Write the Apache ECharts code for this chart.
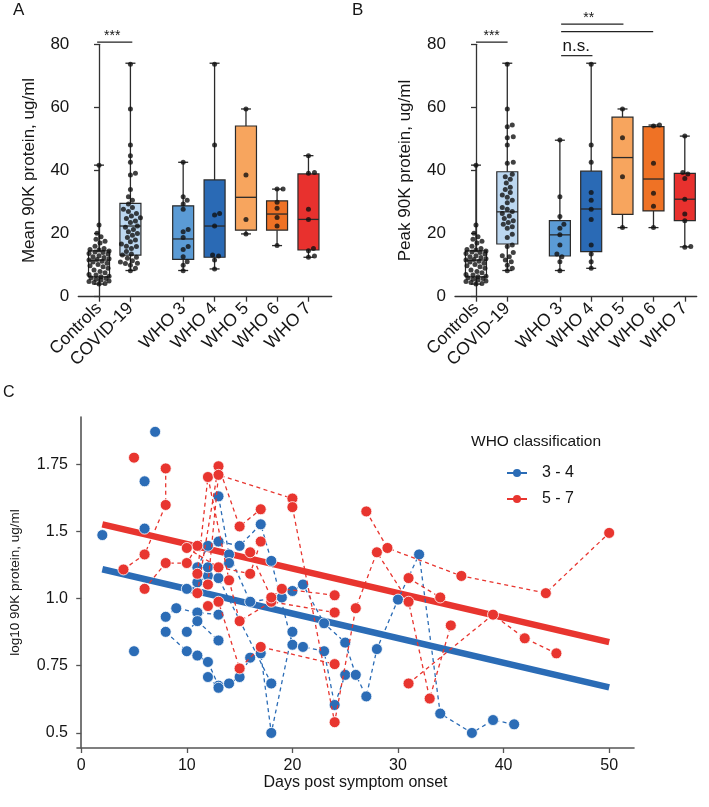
<!DOCTYPE html>
<html><head><meta charset="utf-8">
<script src="https://cdn.jsdelivr.net/npm/echarts@6/dist/echarts.min.js"></script>
<style>html,body{margin:0;padding:0;background:#fff}#c{width:709px;height:807px}</style>
</head><body><div id="c"></div>
<script>
// ---------- Panels A & B data ----------
const categories = ['Controls','COVID-19','WHO 3','WHO 4','WHO 5','WHO 6','WHO 7'];
const catPos = [0, 1, 2.68, 3.68, 4.68, 5.67, 6.67];
const boxColors = ['#ffffff','#bcd7f0','#5b9bd5','#2a6ab5','#f7a55e','#ef7225','#e8312e'];
const yTicksAB = [0, 20, 40, 60, 80];

// box stats: [min, Q1, median, Q3, max]
const meanBoxStats = [
  [4.0, 6.3, 11.6, 14.5, 41.7],
  [8.3, 13.2, 22.4, 29.6, 74.0],
  [8.3, 11.8, 18.3, 28.8, 42.6],
  [8.8, 12.5, 22.4, 37.0, 74.0],
  [19.9, 21.1, 31.5, 54.1, 59.5],
  [16.2, 21.1, 26.2, 30.4, 34.1],
  [12.5, 14.8, 24.5, 38.9, 44.7]
];
const peakBoxStats = [
  [4.0, 6.3, 11.6, 14.5, 41.7],
  [8.3, 16.7, 26.9, 39.6, 74.0],
  [8.3, 12.9, 19.6, 24.1, 49.6],
  [9.0, 14.3, 27.8, 39.8, 74.0],
  [21.9, 26.1, 44.1, 56.9, 59.5],
  [21.9, 27.2, 37.3, 53.9, 54.4],
  [15.8, 24.1, 30.9, 39.1, 50.9]
];

const controlsValues = [41.7,22.7,20.1,19.0,18.2,17.6,17.0,16.0,15.3,15.0,14.8,14.5,14.2,14.0,13.7,13.5,13.0,12.7,12.4,12.0,11.8,11.6,11.2,11.0,10.6,10.2,9.8,9.5,9.0,8.5,8.0,7.6,7.0,6.9,6.5,6.3,6.0,5.8,5.5,5.3,5.0,4.8,4.5,4.2,4.0];

const meanCovid = [73.7,59.5,48.1,44.7,42.6,39.1,38.6,34.0,31.7,30.6,29.4,28.3,27.7,27.0,26.4,25.6,25.0,24.8,24.0,23.5,22.4,22.0,21.3,20.6,20.0,19.5,18.8,18.0,17.4,16.7,16.0,15.9,15.3,14.3,13.5,13.2,12.5,12.2,11.4,11.0,10.6,10.5,10.0,9.0,8.2];
const meanWho3 = [42.6,31.7,30.6,29.4,27.7,21.3,20.6,18.8,15.9,15.0,12.7,11.1,10.0,8.2];
const meanWho4 = [73.7,48.1,26.4,25.9,22.4,13.2,12.9,11.6,8.8];
const meanWho5 = [59.5,38.6,24.5,19.9];
const meanWho6 = [34.1,34.1,29.9,28.0,25.1,22.4,16.2];
const meanWho7 = [44.7,39.4,39.1,27.7,24.5,15.3,14.6,12.9,12.5];

const peakCovid = [73.7,59.5,54.4,53.9,50.7,50.4,48.1,42.6,42.3,38.8,38.0,37.2,36.0,34.7,34.0,33.0,32.2,31.5,30.6,29.8,28.3,27.7,27.0,26.4,25.6,24.8,24.1,23.5,23.0,22.2,21.7,19.8,18.8,16.4,15.9,14.0,13.0,12.7,11.6,11.1,10.0,9.0,8.2];
const peakWho3 = [49.7,31.7,25.4,23.0,21.7,19.6,16.4,13.5,12.7,11.1,8.2];
const peakWho4 = [73.7,48.1,42.6,33.0,30.6,27.7,24.5,16.4,13.5,11.1,9.0];
const peakWho5 = [59.5,50.4,38.0,21.9];
const peakWho6 = [54.4,54.1,42.3,32.8,28.7,21.9];
const peakWho7 = [50.9,39.4,38.9,37.5,30.9,26.2,24.1,15.9,15.7];

const meanPoints = [controlsValues, meanCovid, meanWho3, meanWho4, meanWho5, meanWho6, meanWho7];
const peakPoints = [controlsValues, peakCovid, peakWho3, peakWho4, peakWho5, peakWho6, peakWho7];

// significance annotations: [x1, x2, y, textX]
const sigA = [[-0.06, 1.06, 80.7, 0.42]];
const sigAText = ['***'];
const sigB = [[0, 1.01, 80.7, 0.5], [2.72, 3.72, 76.4, 3.2], [2.72, 4.71, 86.4, 3.6], [2.72, 5.66, 84.0, -1]];
const sigBText = ['***', 'n.s.', '**', ''];

// ---------- Panel C data ----------
const cTickValues = [0.5, 0.8125, 1.125, 1.4375, 1.75];
const cTickLabels = ['0.5', '0.75', '1.0', '1.5', '1.75'];
const dayTicks = [0, 10, 20, 30, 40, 50];

const bluePatients = [
  [[2,1.42]],
  [[5,0.88]],
  [[6,1.67]],
  [[7,1.90]],
  [[6,1.45]],
  [[8,0.97],[10,0.88],[11,0.86],[12,0.83],[13,0.72]],
  [[12,0.76],[13,0.71],[14,0.73],[15,0.76],[16,0.85],[17,0.87],[18,0.50],[20,0.97]],
  [[8,1.04],[9,1.08],[11,1.06],[13,1.05]],
  [[10,1.17],[11,1.20],[12,1.23],[13,1.22],[18,0.73]],
  [[11,1.27],[12,1.37],[13,1.39],[15,1.37],[17,1.47],[18,1.30],[20,0.91],[21,0.90],[23,0.88],[24,0.63],[25,0.77]],
  [[13,1.60],[14,1.33],[16,1.11],[19,1.13],[20,1.16],[21,1.19],[23,1.01],[25,0.92],[26,0.77],[27,0.67],[28,0.89],[30,1.12],[32,1.33],[34,0.59],[37,0.50],[39,0.56],[41,0.54]],
  [[10,0.97],[11,1.02],[13,0.93]],
  [[12,1.27],[14,1.29]]
];
const redPatients = [
  [[5,1.78]],
  [[4,1.26],[6,1.33],[8,1.56],[8,1.73]],
  [[6,1.17],[8,1.29],[10,1.29],[11,1.37]],
  [[10,1.36],[13,1.27],[16,1.24],[17,1.39]],
  [[11,1.24],[12,1.69],[14,1.21],[15,1.02],[18,1.11],[24,1.06]],
  [[11,1.15],[13,1.74],[15,1.46],[17,1.54]],
  [[12,1.19],[13,1.70],[20,1.59]],
  [[12,1.09],[13,1.11],[15,0.80],[17,0.90],[24,0.82]],
  [[16,1.34],[18,1.13],[19,1.17],[24,1.14]],
  [[20,1.55],[24,0.55],[26,1.08],[28,1.34],[31,1.11],[33,0.66],[35,1.00]],
  [[27,1.53],[29,1.36],[36,1.23],[44,1.15],[50,1.43]],
  [[31,1.22],[34,1.13]],
  [[31,0.73],[39,1.05],[42,0.94],[45,0.87]]
];
const blueTrend = [[2,1.261],[50,0.712]];
const redTrend = [[2,1.47],[50,0.922]];

const BLUE = '#2b6cb6', RED = '#e8352f';
const FONT = '"Liberation Sans", Arial, sans-serif';
const TXT = '#151515';

// ---------- helpers ----------
const PX_PER_X = 31.35, PX_PER_Y = 3.155;
function swarm(values, d, maxOff) {
  const order = values.map((v, i) => i).sort((a, b) => values[a] - values[b]);
  const placed = [];
  const off = new Array(values.length).fill(0);
  for (const i of order) {
    const y = values[i] * PX_PER_Y;
    let best = 0, bestPen = Infinity;
    for (let k = 0; k <= 2 * maxOff; k++) {
      const c = (k % 2 ? 1 : -1) * Math.ceil(k / 2);
      let pen = 0;
      for (const p of placed) {
        const dist = Math.hypot(p[0] - c, p[1] - y);
        if (dist < d) pen += d - dist;
      }
      if (pen === 0) { best = c; bestPen = 0; break; }
      if (pen < bestPen) { bestPen = pen; best = c; }
    }
    placed.push([best, y]);
    off[i] = best;
  }
  return off;
}
function dotData(points) {
  const out = [];
  points.forEach((vals, ci) => {
    const off = swarm(vals, 5.2, 10);
    vals.forEach((v, j) => out.push([catPos[ci] + off[j] / PX_PER_X, v]));
  });
  return out;
}
function boxRender(params, api) {
  const x = api.value(0);
  const p = [1, 2, 3, 4, 5].map(k => api.coord([x, api.value(k)]));
  const cx = p[0][0], hw = 10.5, cw = 5;
  const stroke = '#2a2a2a';
  const color = boxColors[api.value(6)];
  return { type: 'group', children: [
    { type: 'line', shape: { x1: cx, y1: p[0][1], x2: cx, y2: p[1][1] }, style: { stroke, lineWidth: 1.3 } },
    { type: 'line', shape: { x1: cx, y1: p[3][1], x2: cx, y2: p[4][1] }, style: { stroke, lineWidth: 1.3 } },
    { type: 'line', shape: { x1: cx - cw, y1: p[0][1], x2: cx + cw, y2: p[0][1] }, style: { stroke, lineWidth: 1.3 } },
    { type: 'line', shape: { x1: cx - cw, y1: p[4][1], x2: cx + cw, y2: p[4][1] }, style: { stroke, lineWidth: 1.3 } },
    { type: 'rect', shape: { x: cx - hw, y: p[3][1], width: 2 * hw, height: p[1][1] - p[3][1] }, style: { fill: color, stroke, lineWidth: 1.2 } },
    { type: 'line', shape: { x1: cx - hw, y1: p[2][1], x2: cx + hw, y2: p[2][1] }, style: { stroke, lineWidth: 1.3 } }
  ] };
}
function sigRender(texts) {
  return function (params, api) {
    const y = api.value(2);
    const a = api.coord([api.value(0), y]), b = api.coord([api.value(1), y]);
    const t = texts[params.dataIndex];
    const children = [{ type: 'line', shape: { x1: a[0], y1: a[1], x2: b[0], y2: b[1] }, style: { stroke: '#222', lineWidth: 1.2 } }];
    if (t) {
      const tx = api.coord([api.value(3), y])[0];
      const isNs = t === 'n.s.';
      children.push({ type: 'text', x: tx, y: a[1] + (isNs ? -1 : 1), style: { text: t, fill: TXT, font: (isNs ? '17px ' : '14px ') + FONT, align: 'center', verticalAlign: 'bottom' } });
    }
    return { type: 'group', children };
  };
}
function boxAxisX(gi, min, max) {
  return {
    gridIndex: gi, type: 'value', min, max,
    axisLine: { show: true, lineStyle: { color: '#333', width: 1.3 } },
    axisTick: { show: true, length: 5, customValues: catPos, lineStyle: { color: '#333', width: 1.3 } },
    axisLabel: { customValues: catPos, rotate: 45, margin: 9, fontSize: 17.5, color: TXT, fontFamily: FONT,
      formatter: v => { const i = catPos.findIndex(p => Math.abs(p - v) < 1e-6); return i >= 0 ? categories[i] : ''; } },
    splitLine: { show: false }
  };
}
function boxAxisY(gi, name, gap) {
  return {
    gridIndex: gi, type: 'value', min: 0, max: 80,
    name, nameLocation: 'middle', nameGap: gap, nameTextStyle: { fontSize: 17, color: TXT, fontFamily: FONT },
    axisLine: { show: true, lineStyle: { color: '#333', width: 1.3 } },
    axisTick: { show: true, length: 5, customValues: yTicksAB, lineStyle: { color: '#333', width: 1.3 } },
    axisLabel: { customValues: yTicksAB, fontSize: 17, color: TXT, fontFamily: FONT, margin: 9 },
    splitLine: { show: false }
  };
}

const series = [];
// Panel A
series.push({ type: 'custom', xAxisIndex: 0, yAxisIndex: 0, renderItem: boxRender, encode: { x: 0, y: [1, 2, 3, 4, 5] },
  data: catPos.map((x, i) => [x, ...meanBoxStats[i], i]), z: 2 });
series.push({ type: 'scatter', xAxisIndex: 0, yAxisIndex: 0, data: dotData(meanPoints), symbolSize: 5, itemStyle: { color: '#111' }, z: 3, silent: true });
series.push({ type: 'custom', xAxisIndex: 0, yAxisIndex: 0, renderItem: sigRender(sigAText), data: sigA, clip: false, z: 4 });
// Panel B
series.push({ type: 'custom', xAxisIndex: 1, yAxisIndex: 1, renderItem: boxRender, encode: { x: 0, y: [1, 2, 3, 4, 5] },
  data: catPos.map((x, i) => [x, ...peakBoxStats[i], i]), z: 2 });
series.push({ type: 'scatter', xAxisIndex: 1, yAxisIndex: 1, data: dotData(peakPoints), symbolSize: 5, itemStyle: { color: '#111' }, z: 3, silent: true });
series.push({ type: 'custom', xAxisIndex: 1, yAxisIndex: 1, renderItem: sigRender(sigBText), data: sigB, clip: false, z: 4 });
// Panel C legend carriers (solid line style for legend icons, no data)
[['3 - 4', BLUE], ['5 - 7', RED]].forEach(([n, c]) => series.push({
  type: 'line', name: n, xAxisIndex: 2, yAxisIndex: 2, data: [], symbol: 'circle', symbolSize: 11,
  itemStyle: { color: c }, lineStyle: { color: c, width: 1.5, type: 'solid' }
}));
// Panel C trends
series.push({ type: 'line', name: 'trend 3-4', xAxisIndex: 2, yAxisIndex: 2, data: blueTrend, showSymbol: false, lineStyle: { color: BLUE, width: 6.5 }, z: 2, silent: true });
series.push({ type: 'line', name: 'trend 5-7', xAxisIndex: 2, yAxisIndex: 2, data: redTrend, showSymbol: false, lineStyle: { color: RED, width: 6.5 }, z: 2, silent: true });
function patientSeries(list, name, color, z) {
  list.forEach(p => series.push({
    type: 'line', name, xAxisIndex: 2, yAxisIndex: 2, data: p, symbol: 'circle', symbolSize: 11, showSymbol: true,
    itemStyle: { color, borderColor: '#ffffff', borderWidth: 0.8 },
    lineStyle: { color, width: 1.3, type: [4, 3.5] }, z, silent: true, animation: false
  }));
}
patientSeries(bluePatients, '3 - 4', BLUE, 3);
patientSeries(redPatients, '5 - 7', RED, 4);

const option = {
  animation: false,
  textStyle: { fontFamily: FONT },
  grid: [
    { left: 78.3, right: 709 - 331.7, top: 44.3, bottom: 807 - 296.7 },
    { left: 455, right: 709 - 696.7, top: 44.3, bottom: 807 - 296.7 },
    { left: 72, right: 709 - 634, top: 417, bottom: 807 - 748 }
  ],
  xAxis: [
    boxAxisX(0, -0.66, 7.41),
    boxAxisX(1, -0.67, 7.05),
    { gridIndex: 2, type: 'value', min: -0.4, max: 52.35,
      name: 'Days post symptom onset', nameLocation: 'middle', nameGap: 26, nameTextStyle: { fontSize: 16, color: TXT, fontFamily: FONT },
      axisLine: { show: true, lineStyle: { color: '#555', width: 1.6 } },
      axisTick: { show: true, length: 5, customValues: dayTicks, lineStyle: { color: '#555', width: 1.3 } },
      axisLabel: { customValues: dayTicks, fontSize: 16, color: TXT, fontFamily: FONT, margin: 10 },
      splitLine: { show: false } }
  ],
  yAxis: [
    boxAxisY(0, 'Mean 90K protein, ug/ml', 40),
    boxAxisY(1, 'Peak 90K protein, ug/ml', 41),
    { gridIndex: 2, type: 'value', min: 0.43, max: 1.969,
      name: 'log10 90K protein, ug/ml', nameLocation: 'middle', nameGap: 55, nameTextStyle: { fontSize: 13.5, color: TXT, fontFamily: FONT },
      axisLine: { show: true, lineStyle: { color: '#555', width: 1.6 } },
      axisTick: { show: true, length: 5, customValues: cTickValues, lineStyle: { color: '#555', width: 1.3 } },
      axisLabel: { customValues: cTickValues, fontSize: 16, color: TXT, fontFamily: FONT, margin: 9,
        formatter: v => { const i = cTickValues.findIndex(p => Math.abs(p - v) < 1e-6); return i >= 0 ? cTickLabels[i] : ''; } },
      splitLine: { show: false } }
  ],
  legend: {
    data: ['3 - 4', '5 - 7'], orient: 'vertical', left: 501, top: 460,
    itemWidth: 20, itemHeight: 10, itemGap: 10,
    textStyle: { fontSize: 16, color: TXT, fontFamily: FONT, lineHeight: 15, padding: [0, 0, 0, 10] },
    selectedMode: false
  },
  graphic: [
    { type: 'text', left: 13, top: 2, style: { text: 'A', font: '17px ' + FONT, fill: TXT } },
    { type: 'text', left: 352, top: 2, style: { text: 'B', font: '17px ' + FONT, fill: TXT } },
    { type: 'text', left: 3, top: 385, style: { text: 'C', font: '16px ' + FONT, fill: TXT } },
    { type: 'text', left: 471, top: 434, style: { text: 'WHO classification', font: '15.5px ' + FONT, fill: TXT } }
  ],
  series
};
const chart = echarts.init(document.getElementById('c'));
chart.setOption(option);
</script>
</body></html>
